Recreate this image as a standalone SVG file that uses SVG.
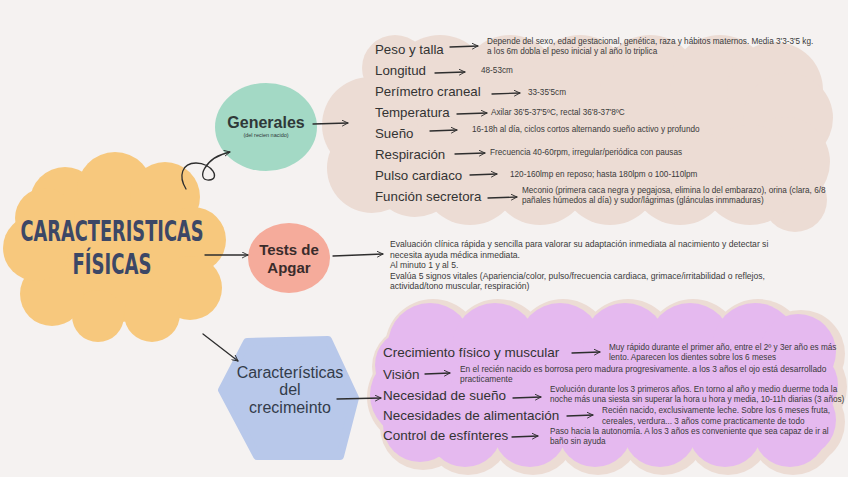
<svg xmlns="http://www.w3.org/2000/svg" width="848" height="477" viewBox="0 0 848 477">
<defs>
<style>
.lbl{font-family:"Liberation Sans",Arial,sans-serif;font-size:13.3px;fill:#333333}
.lbl2{font-family:"Liberation Sans",Arial,sans-serif;font-size:13.5px;fill:#333333}
.desc{font-family:"Liberation Sans",Arial,sans-serif;font-size:8.2px;fill:#3a3a3a}
.descw{font-family:"Liberation Sans",Arial,sans-serif;font-size:8.6px;fill:#3a3a3a}
.node{font-family:"Liberation Sans",Arial,sans-serif;text-anchor:middle}
.title{font-family:"Liberation Sans Narrow","DejaVu Sans Condensed",sans-serif;font-weight:bold;font-size:20px;fill:#3c4766;text-anchor:middle}
.conn{fill:none;stroke:#2e2e2e;stroke-width:1.3;stroke-linecap:round;marker-end:url(#ah)}
.beige{fill:#ecdcd4}
.purple{fill:#e5b9ef}
.yellow{fill:#f7c87d}
</style>
<marker id="ah" viewBox="0 0 10 10" refX="9" refY="5" markerWidth="7" markerHeight="7" orient="auto" markerUnits="userSpaceOnUse">
<path d="M1,1 L9,5 L1,9" fill="none" stroke="#2e2e2e" stroke-width="1.3" stroke-linecap="round" stroke-linejoin="round"/>
</marker>
</defs>
<rect width="848" height="477" fill="#f5f2f1"/>

<g id="cloud-generales" class="beige">
<rect x="380" y="85" width="410" height="90"/>
<circle cx="395" cy="68" r="33"/>
<circle cx="440" cy="85" r="50"/>
<circle cx="510" cy="85" r="50"/>
<circle cx="580" cy="85" r="50"/>
<circle cx="650" cy="85" r="50"/>
<circle cx="720" cy="85" r="50"/>
<circle cx="775" cy="90" r="48"/>
<circle cx="788" cy="118" r="45"/>
<circle cx="785" cy="162" r="45"/>
<circle cx="795" cy="200" r="32"/>
<circle cx="750" cy="175" r="50"/>
<circle cx="680" cy="175" r="50"/>
<circle cx="610" cy="175" r="50"/>
<circle cx="540" cy="175" r="50"/>
<circle cx="470" cy="175" r="50"/>
<circle cx="415" cy="172" r="45"/>
<circle cx="372" cy="168" r="45"/>
<circle cx="370" cy="125" r="48"/>
</g>

<g id="cloud-crecimiento">
<g class="beige" transform="translate(3,2)">
<rect x="420" y="345" width="380" height="85"/>
<circle cx="410" cy="365" r="41"/>
<circle cx="430" cy="345" r="48"/>
<circle cx="495" cy="345" r="48"/>
<circle cx="560" cy="345" r="48"/>
<circle cx="625" cy="345" r="48"/>
<circle cx="690" cy="345" r="48"/>
<circle cx="755" cy="345" r="48"/>
<circle cx="798" cy="352" r="44"/>
<circle cx="800" cy="385" r="44"/>
<circle cx="798" cy="420" r="44"/>
<circle cx="790" cy="430" r="43"/>
<circle cx="725" cy="430" r="43"/>
<circle cx="660" cy="430" r="43"/>
<circle cx="595" cy="430" r="43"/>
<circle cx="530" cy="430" r="43"/>
<circle cx="465" cy="430" r="43"/>
<circle cx="420" cy="425" r="43"/>
<circle cx="412" cy="395" r="48"/>
</g>
<g class="purple">
<rect x="420" y="345" width="380" height="85"/>
<circle cx="410" cy="365" r="35"/>
<circle cx="430" cy="345" r="42"/>
<circle cx="495" cy="345" r="42"/>
<circle cx="560" cy="345" r="42"/>
<circle cx="625" cy="345" r="42"/>
<circle cx="690" cy="345" r="42"/>
<circle cx="755" cy="345" r="42"/>
<circle cx="798" cy="352" r="38"/>
<circle cx="800" cy="385" r="38"/>
<circle cx="798" cy="420" r="38"/>
<circle cx="790" cy="430" r="37"/>
<circle cx="725" cy="430" r="37"/>
<circle cx="660" cy="430" r="37"/>
<circle cx="595" cy="430" r="37"/>
<circle cx="530" cy="430" r="37"/>
<circle cx="465" cy="430" r="37"/>
<circle cx="420" cy="425" r="37"/>
<circle cx="412" cy="395" r="42"/>
</g>
</g>

<g id="main">
<g class="yellow">
<ellipse cx="115" cy="252" rx="88" ry="70"/>
<circle cx="65" cy="202" r="35"/>
<circle cx="115" cy="190" r="38"/>
<circle cx="165" cy="197" r="35"/>
<circle cx="193" cy="240" r="33"/>
<circle cx="190" cy="288" r="32"/>
<circle cx="152" cy="314" r="28"/>
<circle cx="98" cy="316" r="26"/>
<circle cx="52" cy="294" r="32"/>
<circle cx="36" cy="248" r="33"/>
<circle cx="45" cy="218" r="30"/>
</g>
<text transform="translate(112,241) scale(1,1.4)" class="title" textLength="183" lengthAdjust="spacingAndGlyphs">CARACTERISTICAS</text>
<text transform="translate(112,274) scale(1,1.4)" class="title" textLength="79" lengthAdjust="spacingAndGlyphs">FÍSICAS</text>
</g>

<g id="generales">
<ellipse cx="266" cy="127" rx="51" ry="44" fill="#a3d9c5"/>
<text x="266" y="128" class="node" font-size="16" font-weight="bold" fill="#2f3838">Generales</text>
<text x="266" y="137" class="node" font-size="5.5" fill="#2f3838">(del recien nacido)</text>
</g>

<g id="apgar">
<ellipse cx="289" cy="258" rx="41" ry="35" fill="#f5ab9b"/>
<text x="289" y="255" class="node" font-size="15" font-weight="bold" fill="#3a2c2c">Tests de</text>
<text x="289" y="273" class="node" font-size="15" font-weight="bold" fill="#3a2c2c">Apgar</text>
</g>

<g id="crecimiento">
<path d="M247,342 L328,340 L355,398 L340,456 L257,456 L222,390 Z" fill="#b8c8ea" stroke="#b8c8ea" stroke-width="8" stroke-linejoin="round"/>
<text x="290" y="378" class="node" font-size="16" fill="#333c4a">Características</text>
<text x="290" y="395" class="node" font-size="16" fill="#333c4a">del</text>
<text x="290" y="413" class="node" font-size="16" fill="#333c4a">crecimeinto</text>
</g>

<g id="generales-items">
<text x="375" y="54" class="lbl">Peso y talla</text>
<text x="375" y="75" class="lbl">Longitud</text>
<text x="375" y="96" class="lbl">Perímetro craneal</text>
<text x="375" y="117" class="lbl">Temperatura</text>
<text x="375" y="138" class="lbl">Sueño</text>
<text x="375" y="159" class="lbl">Respiración</text>
<text x="375" y="180" class="lbl">Pulso cardiaco</text>
<text x="375" y="201" class="lbl">Función secretora</text>
<text x="487" y="44" class="desc">Depende del sexo, edad gestacional, genética, raza y hábitos maternos. Media 3'3-3'5 kg.</text>
<text x="487" y="54" class="desc">a los 6m dobla el peso inicial y al año lo triplica</text>
<text x="481" y="73" class="desc">48-53cm</text>
<text x="528" y="95" class="desc">33-35'5cm</text>
<text x="491" y="115" class="desc">Axilar 36'5-37'5ºC, rectal 36'8-37'8ºC</text>
<text x="472" y="132" class="desc">16-18h al día, ciclos cortos alternando sueño activo y profundo</text>
<text x="490" y="155" class="desc">Frecuencia 40-60rpm, irregular/periódica con pausas</text>
<text x="510" y="177" class="desc">120-160lmp en reposo; hasta 180lpm o 100-110lpm</text>
<text x="522" y="193" class="desc">Meconio (primera caca negra y pegajosa, elimina lo del embarazo), orina (clara, 6/8</text>
<text x="522" y="203" class="desc">pañales húmedos al día) y sudor/lágrimas (glánculas inmmaduras)</text>
</g>

<g id="apgar-text">
<text x="390" y="247" class="descw">Evaluación clínica rápida y sencilla para valorar su adaptación inmediata al nacimiento y detectar si</text>
<text x="390" y="257.5" class="descw">necesita ayuda médica inmediata.</text>
<text x="390" y="268" class="descw">Al minuto 1 y al 5.</text>
<text x="390" y="278.5" class="descw">Evalúa 5 signos vitales (Apariencia/color, pulso/frecuencia cardiaca, grimace/irritabilidad o reflejos,</text>
<text x="390" y="289" class="descw">actividad/tono muscular, respiración)</text>
</g>

<g id="crecimiento-items">
<text x="383" y="357" class="lbl2">Crecimiento físico y muscular</text>
<text x="383" y="379" class="lbl2">Visión</text>
<text x="383" y="400" class="lbl2">Necesidad de sueño</text>
<text x="383" y="420" class="lbl2">Necesidades de alimentación</text>
<text x="383" y="440" class="lbl2">Control de esfínteres</text>
<text x="609" y="350" class="desc">Muy rápido durante el primer año, entre el 2º y 3er año es más</text>
<text x="609" y="360" class="desc">lento. Aparecen los dientes sobre los 6 meses</text>
<text x="460" y="372" class="desc" style="font-size:8.4px">En el recién nacido es borrosa pero madura progresivamente. a los 3 años el ojo está desarrollado</text>
<text x="460" y="382" class="desc" style="font-size:8.4px">practicamente</text>
<text x="550" y="392" class="desc">Evolución durante los 3 primeros años. En torno al año y medio duerme toda la</text>
<text x="550" y="402" class="desc">noche más una siesta sin superar la hora u hora y media, 10-11h diarias (3 años)</text>
<text x="602" y="413" class="desc">Recién nacido, exclusivamente leche. Sobre los 6 meses fruta,</text>
<text x="602" y="424" class="desc">cereales, verdura... 3 años come practicamente de todo</text>
<text x="550" y="434" class="desc">Paso hacia la autonomía. A los 3 años es conveniente que sea capaz de ir al</text>
<text x="550" y="444" class="desc">baño sin ayuda</text>
</g>

<g id="connectors">
<path class="conn" d="M186,189 C178,176 182,163 196,163 C212,163 221,179 209,180 C196,181 203,158 230,152"/>
<path class="conn" d="M205,255 L248,255"/>
<path class="conn" d="M203,334 L238,361"/>
<path class="conn" d="M313,124 L348,123"/>
<path class="conn" d="M333,256 L383,254"/>
<path class="conn" d="M337,399 L381,398"/>
<path class="conn" d="M450,47 L478,46"/>
<path class="conn" d="M435,73 L465,72"/>
<path class="conn" d="M492,94 L520,93"/>
<path class="conn" d="M457,114 L487,113"/>
<path class="conn" d="M430,131 L457,130"/>
<path class="conn" d="M455,154 L485,153"/>
<path class="conn" d="M470,175 L497,174"/>
<path class="conn" d="M488,198 L517,197"/>
<path class="conn" d="M572,353 L600,352"/>
<path class="conn" d="M425,374 L450,373"/>
<path class="conn" d="M513,398 L541,397"/>
<path class="conn" d="M567,416 L593,415"/>
<path class="conn" d="M512,437 L538,436"/>
</g>
</svg>
